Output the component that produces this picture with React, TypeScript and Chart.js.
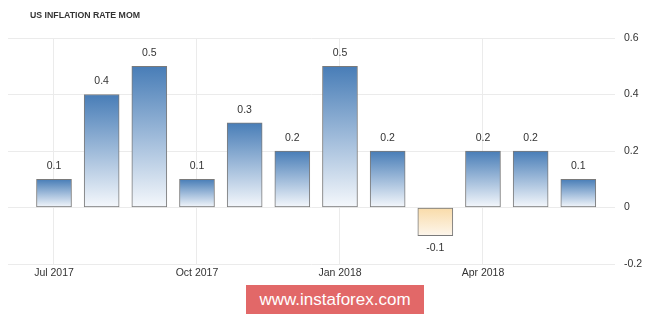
import React, { useEffect, useRef } from "react";
import { Chart, registerables } from "chart.js";

Chart.register(...registerables);

const months = [
  "Jul 2017", "Aug 2017", "Sep 2017", "Oct 2017", "Nov 2017", "Dec 2017",
  "Jan 2018", "Feb 2018", "Mar 2018", "Apr 2018", "May 2018", "Jun 2018",
];
const values = [0.1, 0.4, 0.5, 0.1, 0.3, 0.2, 0.5, 0.2, -0.1, 0.2, 0.2, 0.1];
const xTickIndices = [0, 3, 6, 9];
const yTicks = [-0.2, 0, 0.2, 0.4, 0.6];
const titleText = "US INFLATION RATE MOM";
const watermarkText = "www.instaforex.com";

const FONT = "'Liberation Sans', Arial, sans-serif";

const fmt = (v: number) => (Math.abs(v) < 1e-9 ? "0" : v.toFixed(1));

export default function App() {
  const ref = useRef<HTMLCanvasElement | null>(null);

  useEffect(() => {
    const canvas = ref.current;
    if (!canvas) return;

    const labelPlugin = {
      id: "barLabels",
      afterDatasetsDraw(chart: any) {
        const ctx = chart.ctx;
        const meta = chart.getDatasetMeta(0);
        ctx.save();
        ctx.font = `10.5px ${FONT}`;
        ctx.fillStyle = "#333";
        ctx.textAlign = "center";
        ctx.textBaseline = "middle";
        meta.data.forEach((el: any, i: number) => {
          const v = values[i];
          const y = v >= 0 ? el.y - 13 : el.y + 12;
          ctx.fillText(fmt(v), el.x, y);
        });
        ctx.restore();
      },
    };

    const titlePlugin = {
      id: "titleText",
      afterDraw(chart: any) {
        const ctx = chart.ctx;
        ctx.save();
        ctx.font = `bold 9.5px ${FONT}`;
        ctx.fillStyle = "#333";
        ctx.textAlign = "left";
        ctx.textBaseline = "middle";
        ctx.fillText(titleText, 30, 15, 110);
        ctx.restore();
      },
    };

    const chart = new Chart(canvas, {
      type: "bar",
      data: {
        datasets: [
          {
            data: values.map((v, i) => ({ x: i, y: v })),
            barThickness: 35,
            borderColor: "#7a7a7a",
            borderWidth: 1,
            borderSkipped: false,
            backgroundColor: (c: any) => {
              const ch = c.chart;
              if (!ch.chartArea || c.type !== "data") return "#6a96c4";
              const y = ch.scales.y;
              const v = values[c.dataIndex];
              const top = y.getPixelForValue(Math.max(v, 0));
              const bot = y.getPixelForValue(Math.min(v, 0));
              const g = ch.ctx.createLinearGradient(0, top, 0, bot);
              if (v >= 0) {
                g.addColorStop(0, "#487db7");
                g.addColorStop(1, "#f5f8fc");
              } else {
                g.addColorStop(0, "#f9dba8");
                g.addColorStop(1, "#fdf6ec");
              }
              return g;
            },
          },
        ],
      },
      options: {
        responsive: false,
        animation: false,
        layout: { padding: { left: 8, top: 38, right: 0, bottom: 0 } },
        plugins: {
          legend: { display: false },
          tooltip: { enabled: false },
          title: { display: false },
        },
        scales: {
          x: {
            type: "linear",
            offset: false,
            min: -0.965,
            max: 11.77,
            afterBuildTicks: (s: any) => {
              s.ticks = xTickIndices.map((v) => ({ value: v }));
            },
            afterFit: (s: any) => {
              s.height = 52;
            },
            grid: { color: "#ebebeb", drawTicks: false, offset: false },
            border: { display: false },
            ticks: {
              autoSkip: false,
              maxRotation: 0,
              padding: 3,
              color: "#333",
              font: { size: 10.5, family: FONT },
              callback: (v: any) => months[Math.round(Number(v))] ?? "",
            },
          },
          y: {
            position: "right",
            min: -0.2,
            max: 0.6,
            afterBuildTicks: (s: any) => {
              s.ticks = yTicks.map((v) => ({ value: v }));
            },
            afterFit: (s: any) => {
              s.width = 50;
            },
            grid: { color: "#ebebeb", drawTicks: false },
            border: { display: false },
            ticks: {
              padding: 9,
              color: "#333",
              font: { size: 10.5, family: FONT },
              callback: (v: any) => fmt(Number(v)),
            },
          },
        },
      } as any,
      plugins: [labelPlugin, titlePlugin],
    });

    return () => chart.destroy();
  }, []);

  return (
    <div style={{ position: "absolute", left: 0, top: 0, width: 665, height: 316, background: "#fff" }}>
      <canvas ref={ref} width={665} height={316} style={{ display: "block", width: 665, height: 316 }} />
      <div
        style={{
          position: "absolute",
          left: 246,
          top: 285,
          width: 178,
          height: 29,
          background: "#e26868",
          color: "#fff",
          fontFamily: FONT,
          fontSize: 17,
          lineHeight: "29px",
          textAlign: "center",
        }}
      >
        {watermarkText}
      </div>
    </div>
  );
}
